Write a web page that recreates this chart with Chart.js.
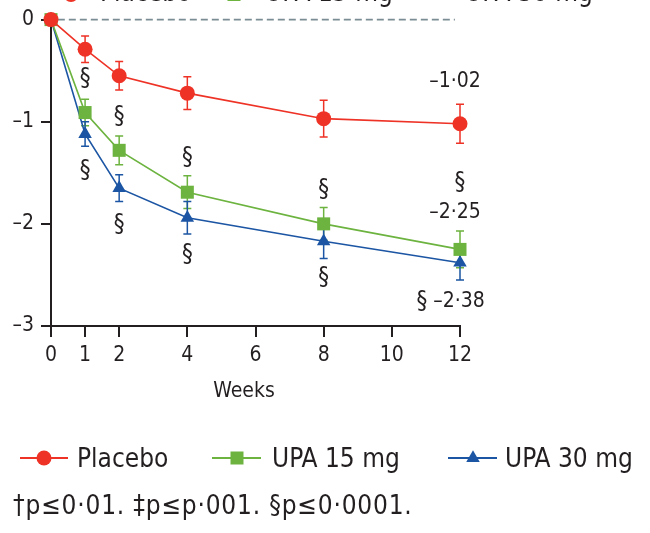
<!DOCTYPE html>
<html>
<head>
<meta charset="utf-8">
<script src="https://cdn.jsdelivr.net/npm/chart.js@4.4.1/dist/chart.umd.min.js"></script>
<style>
  html, body { margin: 0; padding: 0; background: #fff; }
  #wrap { width: 650px; height: 533px; position: relative; }
</style>
</head>
<body>
<div id="wrap"><canvas id="chart" width="650" height="533"></canvas></div>
<script>
// Mean change from baseline by study week
const weeks = [0, 1, 2, 4, 8, 12];
const xTickValues = [0, 1, 2, 4, 6, 8, 10, 12];
const yTickValues = [-3, -2, -1, 0];
const placebo = [0, -0.29, -0.55, -0.72, -0.97, -1.02];
const upa15 = [0, -0.91, -1.28, -1.69, -2.00, -2.25];
const upa30 = [0, -1.12, -1.65, -1.94, -2.17, -2.38];
// Error bar half-widths
const placeboErr = [0, 0.13, 0.14, 0.16, 0.18, 0.19];
const upa15Err = [0, 0.13, 0.14, 0.16, 0.16, 0.18];
const upa30Err = [0, 0.12, 0.13, 0.16, 0.17, 0.17];
const seriesNames = ['Placebo', 'UPA 15 mg', 'UPA 30 mg'];
const sigWeeks = [1, 2, 4, 8, 12];   // § p≤0·0001 versus placebo
const xTitle = 'Weeks';
const footnote = '†p≤0·01. ‡p≤p·001. §p≤0·0001.';

const FONT = "'DejaVu Sans Condensed', 'DejaVu Sans', sans-serif";
const INK = '#231f20';
const colors = ['#ee3226', '#6cb33f', '#1b55a3'];
const styles = ['circle', 'rect', 'triangle'];
const radii = [7.5, 9.2, 7.8];

const values = [placebo, upa15, upa30];
const errs = [placeboErr, upa15Err, upa30Err];

function fmt(v) {
  return (v < 0 ? '–' : '') + Math.abs(v).toFixed(2).replace('.', '·');
}

const datasets = seriesNames.map((name, i) => ({
  label: name,
  data: weeks.map((w, j) => ({ x: w, y: values[i][j] })),
  errors: errs[i],
  borderColor: colors[i],
  backgroundColor: colors[i],
  borderWidth: 1.6,
  pointStyle: styles[i],
  pointRadius: radii[i],
  pointBorderWidth: 0,
  pointBackgroundColor: colors[i],
  tension: 0,
  clip: false
}));

// zero reference line and error bars, beneath the series
const errorBars = {
  id: 'errorBars',
  beforeDatasetsDraw(chart) {
    const { ctx, scales: { x, y } } = chart;
    ctx.save();
    ctx.strokeStyle = '#7b8d94';
    ctx.lineWidth = 1.6;
    ctx.setLineDash([7, 4]);
    ctx.beginPath();
    ctx.moveTo(x.getPixelForValue(0.2), y.getPixelForValue(0));
    ctx.lineTo(x.getPixelForValue(11.85), y.getPixelForValue(0));
    ctx.stroke();
    ctx.setLineDash([]);
    chart.data.datasets.forEach(ds => {
      ctx.strokeStyle = ds.borderColor;
      ctx.lineWidth = 1.5;
      ds.data.forEach((p, j) => {
        const e = ds.errors[j];
        if (!e) return;
        const px = x.getPixelForValue(p.x);
        const t = y.getPixelForValue(p.y + e);
        const b = y.getPixelForValue(p.y - e);
        ctx.beginPath();
        ctx.moveTo(px, t); ctx.lineTo(px, b);
        ctx.moveTo(px - 4, t); ctx.lineTo(px + 4, t);
        ctx.moveTo(px - 4, b); ctx.lineTo(px + 4, b);
        ctx.stroke();
      });
    });
    ctx.restore();
  }
};

function legendRow(ctx, items, markerY, baseY) {
  items.forEach((it, i) => {
    ctx.strokeStyle = colors[i];
    ctx.lineWidth = 2;
    ctx.beginPath();
    ctx.moveTo(it.x0, markerY); ctx.lineTo(it.x1, markerY);
    ctx.stroke();
    ctx.fillStyle = colors[i];
    ctx.strokeStyle = colors[i];
    ctx.lineWidth = 0;
    Chart.helpers.drawPoint(ctx, { pointStyle: styles[i], radius: radii[i], rotation: 0, borderWidth: 0 }, it.m, markerY);
    ctx.fillStyle = INK;
    ctx.textAlign = 'left';
    ctx.textBaseline = 'alphabetic';
    ctx.fillText(seriesNames[i], it.t, baseY);
  });
}

const annotations = {
  id: 'annotations',
  afterDraw(chart) {
    const { ctx, scales: { x, y } } = chart;
    ctx.save();
    ctx.fillStyle = INK;
    ctx.textAlign = 'center';
    ctx.textBaseline = 'middle';
    const sig = `24px ${FONT}`;
    const lab = `21px ${FONT}`;
    const last = weeks[weeks.length - 1];
    sigWeeks.forEach(w => {
      const j = weeks.indexOf(w);
      const px = x.getPixelForValue(w);
      const p15 = y.getPixelForValue(upa15[j]);
      const p30 = y.getPixelForValue(upa30[j]);
      if (w === last) {
        ctx.font = sig;
        ctx.fillText('§', px, p15 - 67);
        ctx.fillText('§', px - 38, p30 + 39);
        ctx.font = lab;
        ctx.fillText(fmt(upa15[j]), px - 5, p15 - 37);
        ctx.fillText(fmt(upa30[j]), px - 1, p30 + 39);
        ctx.fillText(fmt(placebo[j]), px - 5, y.getPixelForValue(placebo[j]) - 42);
      } else {
        ctx.font = sig;
        ctx.fillText('§', px, p15 - 34);
        ctx.fillText('§', px, p30 + 37);
      }
    });

    // axis title
    ctx.font = `21px ${FONT}`;
    ctx.fillText(xTitle, 244, 392);

    // legends (upper row runs off the top edge)
    ctx.font = `26px ${FONT}`;
    legendRow(ctx, [
      { x0: 47, x1: 95, m: 71, t: 100 },
      { x0: 210, x1: 258, m: 234, t: 265 },
      { x0: 410, x1: 458, m: 434, t: 465 }
    ], -5.5, 0.5);
    legendRow(ctx, [
      { x0: 20, x1: 68, m: 44, t: 77 },
      { x0: 212, x1: 261, m: 237, t: 272 },
      { x0: 448, x1: 497, m: 473, t: 505 }
    ], 458, 467);

    ctx.font = `26px ${FONT}`;
    ctx.letterSpacing = '0.8px';
    ctx.fillStyle = INK;
    ctx.textAlign = 'left';
    ctx.textBaseline = 'alphabetic';
    ctx.fillText(footnote, 13, 514);
    ctx.restore();
  }
};

new Chart(document.getElementById('chart'), {
  type: 'line',
  data: { datasets },
  plugins: [errorBars, annotations],
  options: {
    responsive: false,
    animation: false,
    devicePixelRatio: 1,
    layout: { padding: { top: 18, right: 190, left: 0, bottom: 0 } },
    plugins: { legend: { display: false }, tooltip: { enabled: false } },
    scales: {
      x: {
        type: 'linear',
        min: 0,
        max: 12,
        afterBuildTicks: s => { s.ticks = xTickValues.map(v => ({ value: v })); },
        afterFit: s => { s.height = 207; },
        grid: { drawOnChartArea: false, drawTicks: true, tickLength: 11, color: INK, lineWidth: 2 },
        border: { display: true, color: INK, width: 2 },
        ticks: {
          font: { family: FONT, size: 21 },
          color: INK,
          padding: 6,
          maxRotation: 0,
          autoSkip: false,
          callback: v => String(v)
        }
      },
      y: {
        type: 'linear',
        min: -3,
        max: 0,
        afterBuildTicks: s => { s.ticks = yTickValues.map(v => ({ value: v })); },
        afterFit: s => { s.width = 51; },
        grid: { drawOnChartArea: false, drawTicks: true, tickLength: 10, color: INK, lineWidth: 2 },
        border: { display: true, color: INK, width: 2 },
        ticks: {
          font: { family: FONT, size: 21 },
          color: INK,
          padding: 7,
          callback: v => (v === 0 ? '0' : '–' + Math.abs(v))
        }
      }
    }
  }
});
</script>
</body>
</html>
